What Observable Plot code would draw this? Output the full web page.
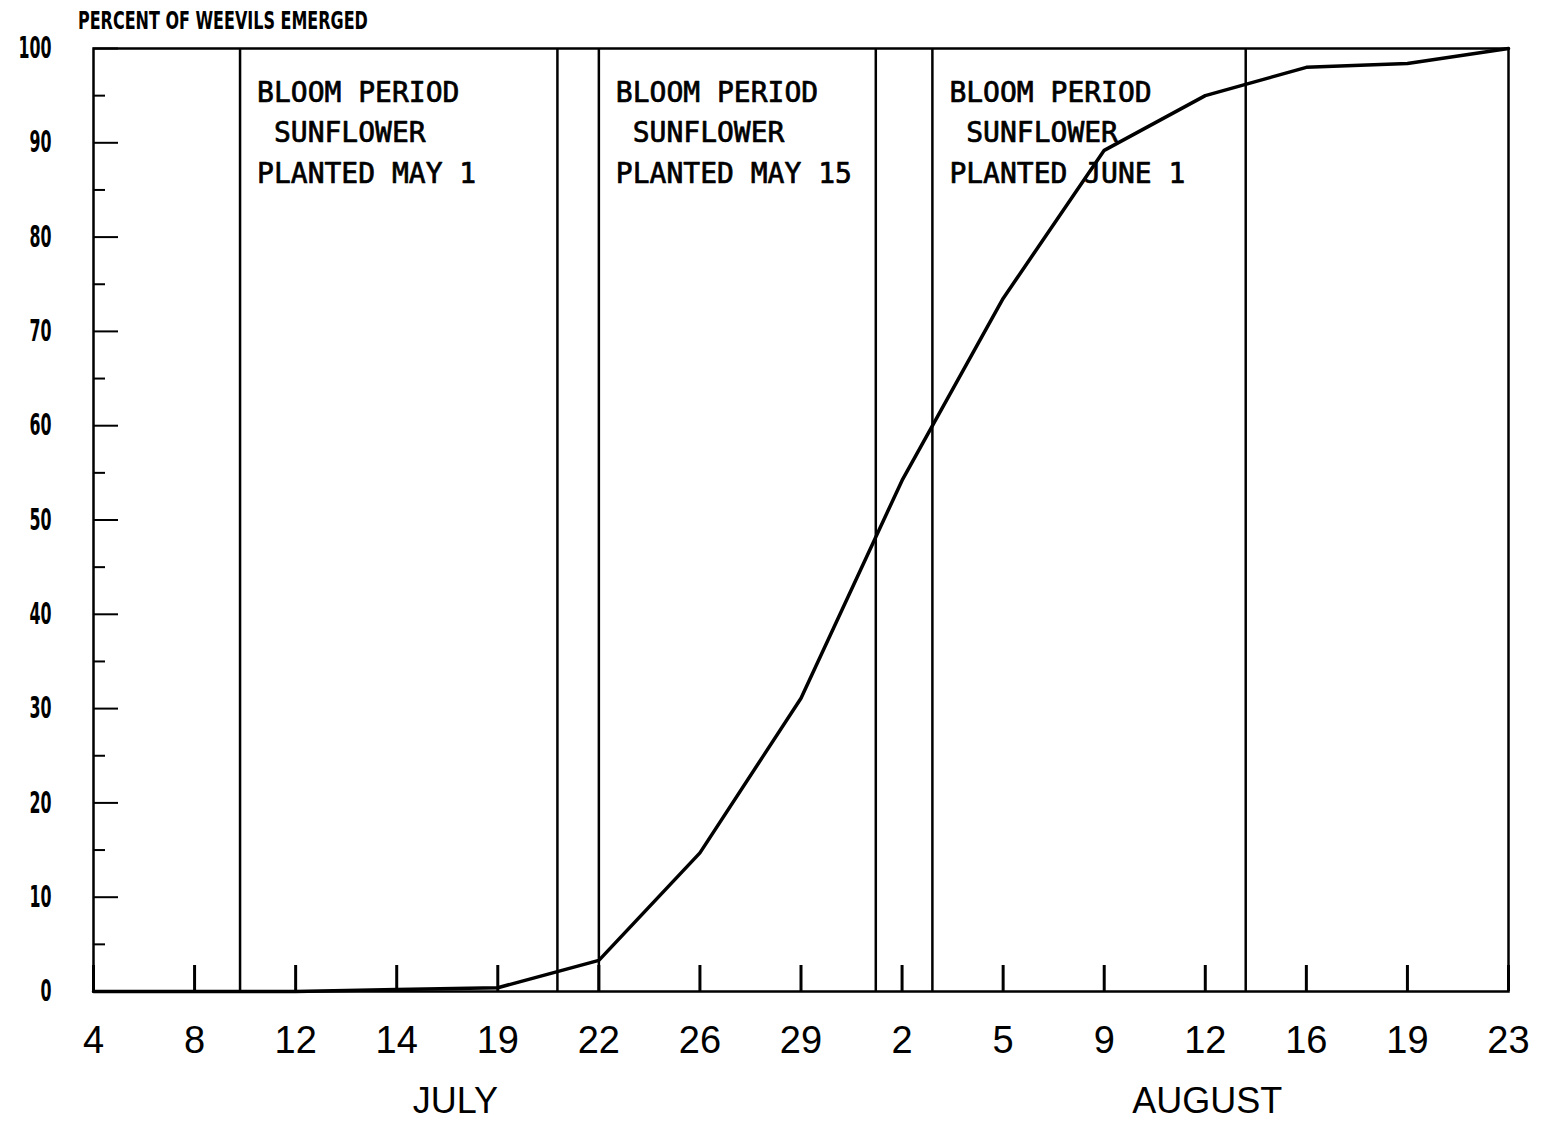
<!DOCTYPE html>
<html><head><meta charset="utf-8">
<script src="https://cdn.jsdelivr.net/npm/d3@7"></script>
<script src="https://cdn.jsdelivr.net/npm/@observablehq/plot@0.6"></script>
<style>
body{margin:0;background:#fff;width:1550px;height:1122px;overflow:hidden}
#title{position:relative;height:40px}
#title span{position:absolute;left:78px;top:10px;font:bold 24px/23px "DejaVu Sans Condensed","DejaVu Sans",sans-serif;font-stretch:condensed;color:#000;white-space:nowrap;transform:scaleX(0.74);transform-origin:0 50%}
</style></head><body>
<div id="title"><span>PERCENT OF WEEVILS EMERGED</span></div>
<div id="chart"></div>
<script>
// Observation dates (equally spaced on the original axis)
const dateLabels = ["4","8","12","14","19","22","26","29","2","5","9","12","16","19","23"];
// Cumulative percent of weevils emerged at each observation date
const percentEmerged = [0, 0, 0, 0.2, 0.4, 3.3, 14.7, 31.1, 54.2, 73.5, 89.2, 95.0, 98.0, 98.4, 100];
// Bloom periods, in positions along the date axis
const bloomStart = [1.45, 5.0, 8.3];
const bloomEnd = [4.59, 7.74, 11.4];
const plantedLabels = ["PLANTED MAY 1", "PLANTED MAY 15", "PLANTED JUNE 1"];
const monthLabels = ["JULY", "AUGUST"];
const monthCenters = [3.58, 11.02];
const yMajor = [0, 10, 20, 30, 40, 50, 60, 70, 80, 90, 100];
const yMinor = [5, 15, 25, 35, 45, 55, 65, 75, 85, 95];

const idx = d3.range(dateLabels.length);
const series = idx.map(i => ({i, v: percentEmerged[i]}));
const bloom = bloomStart.map((s, k) => ({s, e: bloomEnd[k], label: "BLOOM PERIOD\n\u00a0SUNFLOWER\n" + plantedLabels[k]}));

const chart = Plot.plot({
  width: 1550, height: 1082,
  marginTop: 8, marginBottom: 131, marginLeft: 93, marginRight: 42,
  x: {domain: [0, dateLabels.length - 1]},
  y: {domain: [0, 100]},
  style: {fontFamily: "Liberation Sans, sans-serif", color: "#000", background: "#fff", overflow: "visible"},
  marks: [
    Plot.frame({stroke: "#000", strokeWidth: 2.5}),
    Plot.ruleX(bloomStart, {stroke: "#000", strokeWidth: 2.5}),
    Plot.ruleX(bloomEnd, {stroke: "#000", strokeWidth: 2.5}),
    Plot.axisY({ticks: yMajor, tickSize: 25, dx: 25, tickFormat: () => "", strokeWidth: 2, label: null}),
    Plot.axisY({ticks: yMinor, tickSize: 12, dx: 12, tickFormat: () => "", strokeWidth: 2, label: null}),
    Plot.axisY({ticks: yMajor, tickSize: 0, tickPadding: 42, fontSize: 30, fontWeight: "bold",
      fontFamily: "DejaVu Sans Condensed, DejaVu Sans, sans-serif", label: null}),
    Plot.axisX({ticks: idx, tickSize: 26, dy: -26, tickFormat: () => "", strokeWidth: 3, label: null}),
    Plot.axisX({ticks: idx, tickSize: 0, tickPadding: 35, tickFormat: i => dateLabels[i], fontSize: 38, label: null}),
    Plot.text(monthLabels, {x: (d, k) => monthCenters[k], frameAnchor: "bottom", dy: 110, fontSize: 36, lineAnchor: "middle"}),
    Plot.line(series, {x: "i", y: "v", stroke: "#000", strokeWidth: 3.5}),
    Plot.text(bloom, {x: "s", frameAnchor: "top", dx: 17, dy: 24, text: "label", textAnchor: "start",
      lineAnchor: "top", lineHeight: 1.46, fontSize: 28, fill: "#000", stroke: "#000", strokeWidth: 0.7,
      fontFamily: "DejaVu Sans Mono, monospace"})
  ]
});
// narrow the y tick labels like the original condensed digits
d3.select(chart).selectAll('g[aria-label="y-axis tick label"] text').each(function() {
  const t = this.textContent;
  if (t) {
    this.setAttribute("textLength", 11 * t.length);
    this.setAttribute("lengthAdjust", "spacingAndGlyphs");
  }
});
document.getElementById("chart").appendChild(chart);
</script>
</body></html>
